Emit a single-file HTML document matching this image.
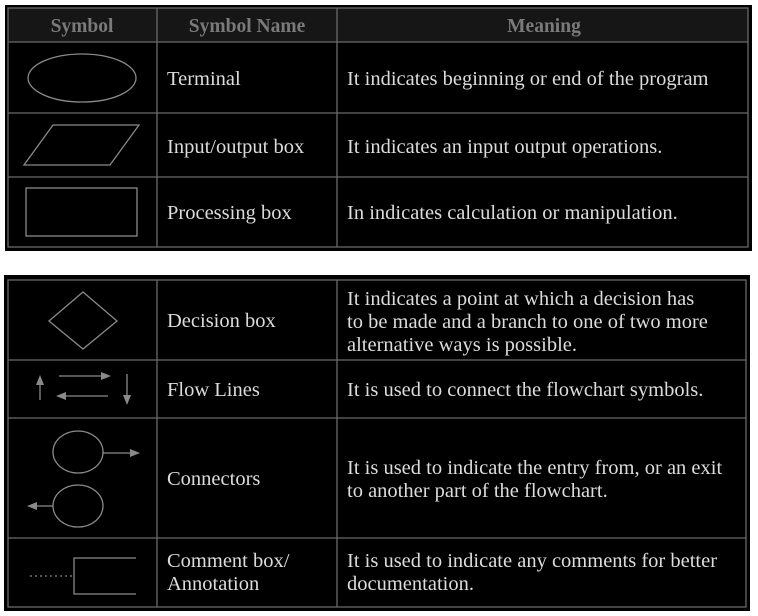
<!DOCTYPE html>
<html><head><meta charset="utf-8"><style>
html,body{margin:0;padding:0;background:#fff;width:758px;height:616px;overflow:hidden}
svg{display:block}
text{font-family:"Liberation Serif",serif;fill:#dcdcdc;font-size:20.5px}
.h{fill:#7a7a7a;font-weight:bold;font-size:19.5px}
</style></head><body>
<svg width="758" height="616" viewBox="0 0 758 616">
<!-- Table 1 -->
<rect x="5" y="5" width="747" height="246" fill="#000"/>
<rect x="8" y="8" width="740" height="34" fill="#161616"/>
<g stroke="#6a6a6a" stroke-width="1.3" fill="none">
<rect x="8" y="8" width="740" height="239"/>
<line x1="8" y1="42" x2="748" y2="42"/>
<line x1="8" y1="113" x2="748" y2="113"/>
<line x1="8" y1="177" x2="748" y2="177"/>
<line x1="157" y1="8" x2="157" y2="247"/>
<line x1="337" y1="8" x2="337" y2="247"/>
</g>
<text class="h" x="82" y="32" text-anchor="middle">Symbol</text>
<text class="h" x="247" y="32" text-anchor="middle">Symbol Name</text>
<text class="h" x="544" y="32" text-anchor="middle">Meaning</text>
<g stroke="#8a8a8a" stroke-width="1.3" fill="none">
<ellipse cx="82" cy="78" rx="54" ry="24"/>
<polygon points="53,125 139,125 110,165 24,165"/>
<rect x="26" y="188" width="111" height="48"/>
</g>
<text x="167" y="85">Terminal</text>
<text x="167" y="153">Input/output box</text>
<text x="167" y="219">Processing box</text>
<text x="347" y="85">It indicates beginning or end of the program</text>
<text x="347" y="153">It indicates an input output operations.</text>
<text x="347" y="219">In indicates calculation or manipulation.</text>

<!-- Table 2 -->
<rect x="4" y="275" width="746" height="336" fill="#000"/>
<g stroke="#6a6a6a" stroke-width="1.3" fill="none">
<rect x="8" y="280" width="738" height="327"/>
<line x1="8" y1="360" x2="746" y2="360"/>
<line x1="8" y1="418" x2="746" y2="418"/>
<line x1="8" y1="538" x2="746" y2="538"/>
<line x1="157" y1="280" x2="157" y2="607"/>
<line x1="337" y1="280" x2="337" y2="607"/>
</g>
<g stroke="#8a8a8a" stroke-width="1.3" fill="none">
<polygon points="83,292 117,321 83,349 49,321"/>
<line x1="40" y1="400" x2="40" y2="382"/>
<line x1="59" y1="376" x2="103" y2="376"/>
<line x1="64" y1="396" x2="108" y2="396"/>
<line x1="127" y1="374" x2="127" y2="398"/>
<ellipse cx="78" cy="452" rx="25" ry="21"/>
<line x1="103" y1="453" x2="130" y2="453"/>
<ellipse cx="78" cy="506" rx="25" ry="21"/>
<line x1="53" y1="506" x2="36" y2="506"/>
<polyline points="136,558 74,558 74,594 136,594"/>
<line x1="30" y1="576" x2="74" y2="576" stroke-dasharray="2,3"/>
</g>
<g fill="#8a8a8a">
<polygon points="40,375 36,385 44,385"/>
<polygon points="111,376 101,372 101,380"/>
<polygon points="56,396 66,392 66,400"/>
<polygon points="127,405 123,395 131,395"/>
<polygon points="140,453 130,449 130,457"/>
<polygon points="27,506 37,502 37,510"/>
</g>
<text x="167" y="327">Decision box</text>
<text x="167" y="396">Flow Lines</text>
<text x="167" y="485">Connectors</text>
<text x="167" y="567">Comment box/</text>
<text x="167" y="590">Annotation</text>
<text x="347" y="305">It indicates a point at which a decision has</text>
<text x="347" y="328">to be made and a branch to one of two more</text>
<text x="347" y="351">alternative ways is possible.</text>
<text x="347" y="396">It is used to connect the flowchart symbols.</text>
<text x="347" y="474">It is used to indicate the entry from, or an exit</text>
<text x="347" y="497">to another part of the flowchart.</text>
<text x="347" y="567">It is used to indicate any comments for better</text>
<text x="347" y="590">documentation.</text>
</svg>
</body></html>
